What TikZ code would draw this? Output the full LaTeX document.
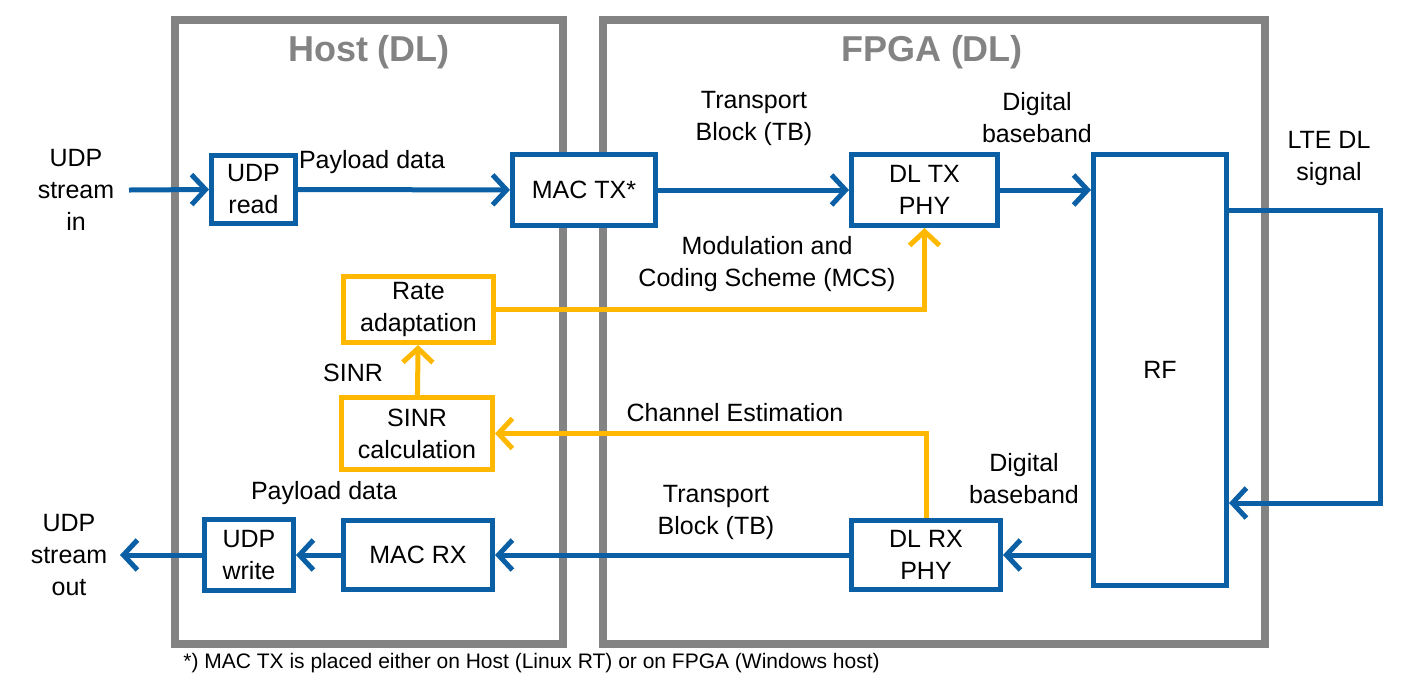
\documentclass[tikz,border=0pt]{standalone}
\usepackage{fontspec}
\setmainfont{Liberation Sans}
\usetikzlibrary{arrows.meta}
\definecolor{lteblue}{HTML}{0B5FA5}
\definecolor{lteyellow}{HTML}{FFB800}
\definecolor{ltegray}{HTML}{838383}

\begin{document}
\begin{tikzpicture}[x=0.5pt,y=-0.5pt,font=\fontsize{12.5}{16}\selectfont,
        blk/.style={draw=lteblue,line width=2.5pt,fill=white,inner sep=0pt,align=center},
        yblk/.style={blk,draw=lteyellow},
        bl/.style={draw=lteblue,line width=2.5pt,-{Straight Barb[length=7pt,width=15pt]}},
        yl/.style={bl,draw=lteyellow},
        txt/.style={align=center,inner sep=0pt},
        area/.style={draw=ltegray,line width=4pt},
        areatitle/.style={font=\fontsize{18}{20}\selectfont\bfseries,text=ltegray}]
        \useasboundingbox(0,0)rectangle(1425,682);

        % host and fpga areas
        \draw[area](175,20)rectangle(563,644);
        \draw[area](603,20)rectangle(1265,644);
        \node[areatitle](hosttitle)at(369,52){Host (DL)};
        \node[areatitle](fpgatitle)at(932,52){FPGA (DL)};

        % blocks
        \node[blk,minimum width=42pt,minimum height=34pt](udpread)at(253.5,189.5){UDP\\read};
        \node[blk,minimum width=71.5pt,minimum height=35.5pt](mactx)at(584,190){MAC TX*};
        \node[blk,minimum width=73pt,minimum height=35.5pt](dltx)at(924.5,190){DL TX\\PHY};
        \node[blk,minimum width=66.5pt,minimum height=215.5pt](rf)at(1160,370){RF};
        \node[blk,minimum width=74.5pt,minimum height=34.5pt](dlrx)at(926,555){DL RX\\PHY};
        \node[blk,minimum width=74.5pt,minimum height=34.5pt](macrx)at(418,555){MAC RX};
        \node[blk,minimum width=44.5pt,minimum height=35.5pt](udpwrite)at(249,555){UDP\\write};
        \node[yblk,minimum width=75pt,minimum height=33pt](rate)at(418.5,309.5){Rate\\adaptation};
        \node[yblk,minimum width=75.5pt,minimum height=36pt](sinr)at(417,433.5){SINR\\calculation};

        % free ends
        \coordinate(udpin)at(129,190);
        \coordinate(udpout)at(120,555);
        \coordinate(ltetop)at(1380,210);
        \coordinate(ltebot)at(1380,503);

        % downlink data path
        \draw[bl](udpin)--(udpread.west);
        \draw[bl](udpread)--(mactx);
        \draw[bl](mactx)--(dltx);
        \draw[bl](dltx.east)--(dltx.east-|rf.west);
        \draw[bl](rf.east|-ltetop)--(ltetop)--(ltebot)--(rf.east|-ltebot);
        \draw[bl](dlrx.east-|rf.west)--(dlrx.east);
        \draw[bl](dlrx)--(macrx);
        \draw[bl](macrx)--(udpwrite);
        \draw[bl](udpwrite.west)--(udpout);

        % feedback path
        \draw[yl](rate.east)-|(dltx.south);
        \draw[yl](dlrx.north)|-(sinr.east);
        \draw[yl](sinr)--(rate);

        % labels
        \node[txt](inlabel)at(76,190){UDP\\stream\\in};
        \node[txt](outlabel)at(69,555){UDP\\stream\\out};
        \node[txt](paytop)at(372,162){Payload data};
        \node[txt](paybot)at(324,493){Payload data};
        \node[txt](tbtop)at(754,118){Transport\\Block (TB)};
        \node[txt](tbbot)at(716,512){Transport\\Block (TB)};
        \node[txt](bbtop)at(1037,118){Digital\\baseband};
        \node[txt](bbbot)at(1024,479){Digital\\baseband};
        \node[txt](ltelabel)at(1329,158){LTE DL\\signal};
        \node[txt](mcslabel)at(767,264){Modulation and\\Coding Scheme (MCS)};
        \node[txt](sinrlabel)at(353,373){SINR};
        \node[txt](chlabel)at(735,413){Channel Estimation};
        \node[anchor=west,inner sep=0pt,font=\fontsize{10.5}{12}\selectfont](note)at(183,663){*) MAC TX is placed either on Host (Linux RT) or on FPGA (Windows host)};
    \end{tikzpicture}
\end{document}
